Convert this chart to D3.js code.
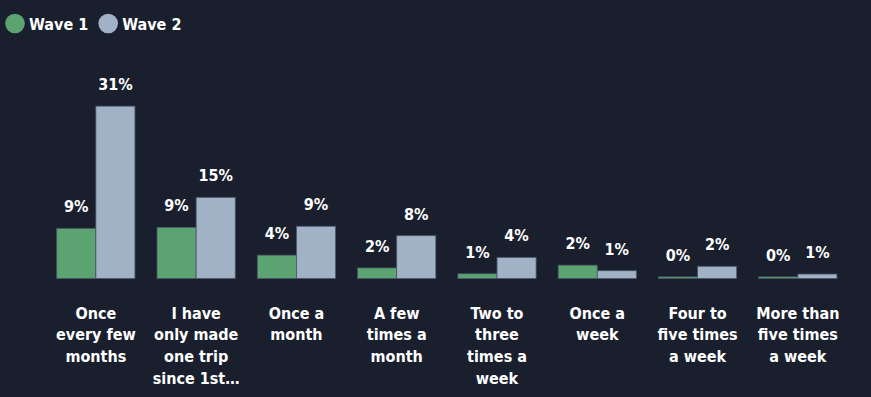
<!DOCTYPE html>
<html>
<head>
<meta charset="utf-8">
<script src="https://cdn.jsdelivr.net/npm/d3@7"></script>
<style>
  html, body { margin: 0; padding: 0; background: #1a1f2e; }
  svg { display: block; }
  text { font-family: "DejaVu Sans Condensed", "Liberation Sans Narrow", Roboto, sans-serif; font-weight: bold; fill: #ffffff; }
</style>
</head>
<body>
<svg id="chart" width="871" height="397"></svg>
<script>
// Trip frequency categories (label lines as shown under each group)
const categories = [
  "Once\nevery few\nmonths",
  "I have\nonly made\none trip\nsince 1st…",
  "Once a\nmonth",
  "A few\ntimes a\nmonth",
  "Two to\nthree\ntimes a\nweek",
  "Once a\nweek",
  "Four to\nfive times\na week",
  "More than\nfive times\na week"
];
const seriesNames = ["Wave 1", "Wave 2"];
// Share of respondents (fraction)
const wave1 = [0.090, 0.092, 0.042, 0.019, 0.0085, 0.024, 0.003, 0.003];
const wave2 = [0.310, 0.146, 0.094, 0.077, 0.038, 0.014, 0.022, 0.008];
const colors = ["#5ba472", "#a1b1c6"];

const svg = d3.select("#chart");
const W = 871, H = 397;
svg.append("rect").attr("width", W).attr("height", H).attr("fill", "#1a1f2e");

const baseline = 278.5;
const x0 = d3.scaleBand().domain(d3.range(categories.length))
  .range([45.7, 848]).paddingInner(0.22).paddingOuter(0.11);
const x1 = d3.scaleBand().domain(d3.range(seriesNames.length)).range([0, x0.bandwidth()]);
const y = d3.scaleLinear().domain([0, 0.35]).range([baseline, baseline - 0.35 * 556]);
const fmt = d3.format(".0%");

const rows = categories.map((c, i) => ({ c, i, vals: [wave1[i], wave2[i]] }));

const g = svg.append("g").selectAll("g").data(rows).join("g")
  .attr("transform", d => `translate(${x0(d.i)},0)`);

g.selectAll("rect").data(d => d.vals.map((v, s) => ({ v, s }))).join("rect")
  .attr("x", d => x1(d.s))
  .attr("y", d => y(d.v))
  .attr("width", x1.bandwidth())
  .attr("height", d => baseline - y(d.v))
  .attr("fill", d => colors[d.s])
  .attr("stroke", "#4a5566")
  .attr("stroke-width", 0.8);

g.selectAll("text.val").data(d => d.vals.map((v, s) => ({ v, s }))).join("text")
  .attr("class", "val")
  .attr("x", d => x1(d.s) + x1.bandwidth() / 2)
  .attr("y", d => y(d.v) - 16)
  .attr("text-anchor", "middle")
  .attr("font-size", 16)
  .text(d => fmt(d.v));

// Category axis labels
const xAxis = d3.axisBottom(x0).tickSize(0).tickFormat("");
const axisG = svg.append("g").attr("transform", `translate(0,${baseline})`).call(xAxis);
axisG.select(".domain").remove();
axisG.selectAll(".tick").each(function(i) {
  const t = d3.select(this).append("text")
    .attr("text-anchor", "middle")
    .attr("font-size", 16)
    .attr("fill", "#ffffff");
  categories[i].split("\n").forEach((line, k) => {
    t.append("tspan").attr("x", 0).attr("y", 40 + k * 21.7).text(line);
  });
});

// Legend
const legend = svg.append("g");
let lx = 15;
seriesNames.forEach((name, s) => {
  const item = legend.append("g").attr("transform", `translate(${lx},23.5)`);
  item.append("circle").attr("r", 9.8).attr("fill", colors[s]);
  const t = item.append("text").attr("x", 14).attr("y", 6).attr("font-size", 16).text(name);
  lx += 14 + t.node().getComputedTextLength() + 20;
});
</script>
</body>
</html>
